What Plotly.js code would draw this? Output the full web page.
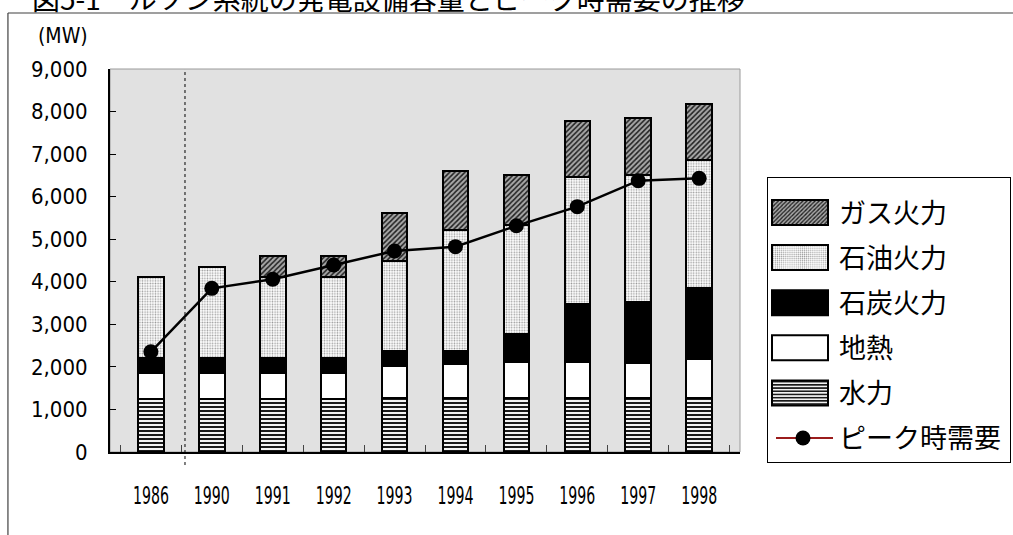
<!DOCTYPE html>
<html>
<head>
<meta charset="utf-8">
<script src="https://cdn.plot.ly/plotly-3.0.1.min.js"></script>
<style>
  html, body { margin: 0; padding: 0; background: #ffffff; }
  #chart { width: 1013px; height: 535px; }
</style>
</head>
<body>
<div id="chart"></div>
<script>
// Luzon grid: installed generating capacity by source and peak demand (MW)
const years = ['1986', '1990', '1991', '1992', '1993', '1994', '1995', '1996', '1997', '1998'];
const hydro      = [1240, 1240, 1240, 1240, 1280, 1280, 1280, 1280, 1280, 1280];
const geothermal = [620, 620, 620, 620, 740, 785, 825, 825, 815, 900];
const coal       = [360, 360, 360, 360, 360, 315, 665, 1370, 1435, 1665];
const oil        = [1900, 2120, 1900, 1900, 2120, 2840, 2560, 2990, 2980, 3015];
const gas        = [0, 0, 495, 495, 1115, 1385, 1180, 1320, 1330, 1315];
const peakDemand = [2355, 3845, 4060, 4395, 4725, 4825, 5315, 5765, 6375, 6430];

const seriesNames = {
  gas: 'ガス火力', oil: '石油火力', coal: '石炭火力',
  geo: '地熱', hydro: '水力', peak: 'ピーク時需要'
};
const titleText = '図5-1\u3000ルソン系統の発電設備容量とピーク時需要の推移';
const unitText = '(MW)';

const numFont = 'Liberation Sans Narrow, Arial Narrow, DejaVu Sans Condensed, sans-serif';
const jpFont = 'Noto Sans CJK JP, sans-serif';
const barEdge = { color: '#000000', width: 2 };

function barTrace(name, values, rank, color, pattern) {
  return {
    type: 'bar', x: years, y: values, name: name,
    legendgroup: name, legendrank: rank,
    marker: Object.assign({ color: color, line: barEdge }, pattern ? { pattern: pattern } : {}),
    hoverinfo: 'skip'
  };
}

const traces = [
  barTrace(seriesNames.hydro, hydro, 5, '#ffffff',
    { shape: '-', fgcolor: '#1a1a1a', bgcolor: '#f2f2f2', size: 4, solidity: 0.5, fillmode: 'replace' }),
  barTrace(seriesNames.geo, geothermal, 4, '#ffffff', null),
  barTrace(seriesNames.coal, coal, 3, '#000000', null),
  barTrace(seriesNames.oil, oil, 2, '#ffffff',
    { shape: '.', fgcolor: '#9a9a9a', bgcolor: '#ffffff', size: 2.6, solidity: 0.3, fillmode: 'replace' }),
  barTrace(seriesNames.gas, gas, 1, '#777777',
    { shape: '/', fgcolor: '#222222', bgcolor: '#a8a8a8', size: 3.6, solidity: 0.45, fillmode: 'replace' }),
  {
    type: 'scatter', mode: 'lines+markers', x: years, y: peakDemand,
    name: seriesNames.peak, legendgroup: seriesNames.peak, legendrank: 6,
    line: { color: '#000000', width: 2.5 },
    marker: { color: '#000000', size: 15, symbol: 'circle' },
    hoverinfo: 'skip'
  }
];

const layout = {
  width: 1013, height: 535,
  margin: { l: 110, r: 273, t: 69, b: 83, pad: 0 },
  paper_bgcolor: '#ffffff',
  plot_bgcolor: '#e1e1e1',
  barmode: 'stack',
  bargap: 0.58,
  showlegend: true,
  legend: {
    x: 1.005, xanchor: 'left', y: 0.718, yanchor: 'top',
    bgcolor: '#ffffff', bordercolor: '#000000', borderwidth: 1,
    font: { family: jpFont, size: 27, color: '#000000' },
    title: { text: '\u00a0', font: { family: jpFont, size: 8 } },
    traceorder: 'grouped', tracegroupgap: 7, itemwidth: 61,
    itemclick: false, itemdoubleclick: false
  },
  xaxis: {
    type: 'category',
    showline: true, linecolor: '#000000', linewidth: 2,
    ticks: 'inside', tickson: 'boundaries', ticklen: 7, tickcolor: '#444444', tickwidth: 1,
    tickangle: 0,
    ticklabelstandoff: 21,
    tickfont: { family: numFont, size: 24, color: '#000000' },
    showgrid: false, zeroline: false, fixedrange: true
  },
  yaxis: {
    range: [0, 9000], dtick: 1000, tickformat: ',d',
    showline: true, linecolor: '#000000', linewidth: 2,
    ticks: 'inside', ticklen: 6, tickcolor: '#000000', tickwidth: 1,
    ticklabelstandoff: 16,
    tickfont: { family: numFont, size: 22, color: '#000000' },
    showgrid: false, zeroline: false, fixedrange: true
  },
  shapes: [
    // light border of the plotting area
    { type: 'rect', xref: 'paper', yref: 'paper', x0: 0, x1: 1, y0: 0, y1: 1,
      line: { color: '#9a9a9a', width: 1 }, layer: 'below' },
    // divider between 1986 and the 1990s
    { type: 'line', xref: 'x', yref: 'paper', x0: 0.56, x1: 0.56, y0: -0.034, y1: 1,
      line: { color: '#000000', width: 1, dash: 'dot' } },
    // frame lines of the figure
    { type: 'line', xref: 'paper', yref: 'paper', x0: -0.162, x1: 1.44, y0: 1.1462, y1: 1.1462,
      line: { color: '#404040', width: 1.2 } },
    { type: 'line', xref: 'paper', yref: 'paper', x0: -0.162, x1: -0.162, y0: 1.1462, y1: -0.23,
      line: { color: '#404040', width: 1.2 } }
  ],
  annotations: [
    { text: titleText, xref: 'paper', yref: 'paper', x: -0.127, xanchor: 'left',
      y: 1.185, yanchor: 'middle', showarrow: false,
      font: { family: jpFont, size: 28, color: '#000000' } },
    { text: unitText, xref: 'paper', yref: 'paper', x: -0.032, xanchor: 'right',
      y: 1.086, yanchor: 'middle', showarrow: false,
      font: { family: numFont, size: 21, color: '#000000' } }
  ]
};

// Legend box spans 767..1011 px; wide swatches sit just left of each label
const legendBox = { left: 767, right: 1011 };

function styleLegend(gd) {
  const leg = gd.querySelector('g.legend');
  if (leg) {
    const tf = leg.getAttribute('transform') || '';
    const mt = /translate\(\s*([-\d.]+)[ ,]+([-\d.]+)\s*\)/.exec(tf);
    if (mt) leg.setAttribute('transform', 'translate(' + legendBox.left + ',' + mt[2] + ')');
    const bg = leg.querySelector('rect.bg');
    if (bg) bg.setAttribute('width', String(legendBox.right - legendBox.left - 1));
  }

  const items = gd.querySelectorAll('.legend .traces');
  items.forEach(function (item) {
    const txt = item.querySelector('text.legendtext');
    if (!txt) return;
    const tr = txt.getBoundingClientRect();
    const cy = tr.top + tr.height / 2 + 1;
    const right = tr.left - 11;
    const left = right - 56;
    const cx = (left + right) / 2;

    const boxes = Array.prototype.filter.call(
      item.querySelectorAll('.legendpoints path'),
      function (p) { return !p.classList.contains('scatterpts'); });
    boxes.forEach(function (bar) {
      const m = bar.getScreenCTM().inverse();
      const a = new DOMPoint(left, cy - 12.5).matrixTransform(m);
      const b = new DOMPoint(right, cy + 12.5).matrixTransform(m);
      bar.setAttribute('d', 'M' + b.x + ',' + b.y + 'H' + a.x + 'V' + a.y + 'H' + b.x + 'Z');
    });
    const line = item.querySelector('path.js-line');
    if (line) {
      const m = line.getScreenCTM().inverse();
      const a = new DOMPoint(left + 4, cy).matrixTransform(m);
      const b = new DOMPoint(right + 5, cy).matrixTransform(m);
      line.setAttribute('d', 'M' + a.x + ',' + a.y + 'L' + b.x + ',' + b.y);
      line.style.stroke = '#9b1c1c';
      line.style.strokeWidth = '2px';
    }
    const pt = item.querySelector('path.scatterpts');
    if (pt) {
      const m = pt.parentNode.getScreenCTM().inverse();
      const c = new DOMPoint(cx + 3, cy).matrixTransform(m);
      pt.setAttribute('transform', 'translate(' + c.x + ',' + c.y + ')');
    }
  });
}

// Narrow, tall year labels under the bars
function styleYearLabels(gd) {
  gd.querySelectorAll('.xtick text').forEach(function (t) {
    t.setAttribute('textLength', '36');
    t.setAttribute('lengthAdjust', 'spacingAndGlyphs');
  });
}

const gd = document.getElementById('chart');
document.fonts.ready.then(function () {
  Plotly.newPlot(gd, traces, layout, { staticPlot: true, displayModeBar: false })
    .then(function () { styleLegend(gd); styleYearLabels(gd); });
});
</script>
</body>
</html>
